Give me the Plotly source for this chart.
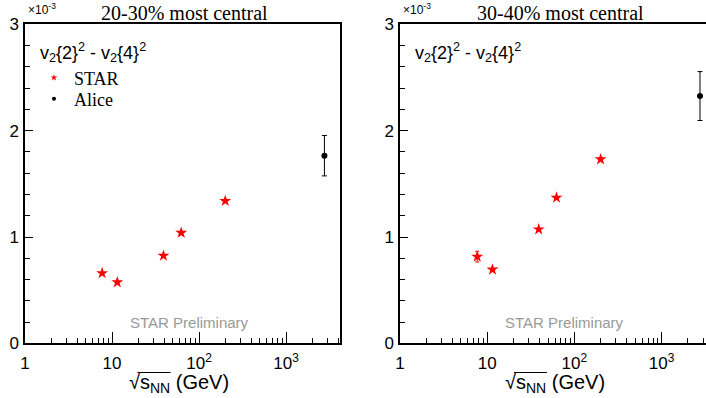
import plotly.graph_objects as go

# ---- data ----
star_energy = [7.7, 11.5, 39, 62.4, 200]
star_2030 = [0.66, 0.574, 0.824, 1.04, 1.339]
star_2030_err = [0.0, 0.0, 0.0, 0.0, 0.0]
star_3040 = [0.815, 0.694, 1.072, 1.37, 1.731]
star_3040_err = [0.05, 0.0, 0.0, 0.0, 0.0]
alice_energy = [2760]
alice_2030 = [1.765]
alice_2030_err = [0.19]
alice_3040 = [2.326]
alice_3040_err = [0.23]

titles = ["20-30% most central", "30-40% most central"]
xtick_vals = [1, 10, 100, 1000]
xtick_text = ["1", "10", "10<sup>2</sup>", "10<sup>3</sup>"]
ytick_vals = [0, 1, 2, 3]

W, H = 706, 398
SANS = "Liberation Sans, Arial, sans-serif"
SERIF = "Liberation Serif, Times New Roman, serif"

ytop, ybot = 24.4, 343.3
ydom = [(H - ybot) / H, (H - ytop) / H]
panels = [
    dict(x0=25, x1=340, xmax=3.62),
    dict(x0=400, x1=706, xmax=3.51),
]

fig = go.Figure()

datasets = [
    (star_2030, star_2030_err, alice_2030, alice_2030_err),
    (star_3040, star_3040_err, alice_3040, alice_3040_err),
]
for i, (sv, se, av, ae) in enumerate(datasets):
    xa = "x" if i == 0 else "x2"
    ya = "y" if i == 0 else "y2"
    fig.add_trace(go.Scatter(
        x=star_energy, y=sv, mode="markers", xaxis=xa, yaxis=ya,
        marker=dict(symbol="star", size=9, color="red", line=dict(width=0)),
        error_y=dict(type="data", array=se, color="red", thickness=1, width=2),
        showlegend=False))
    fig.add_trace(go.Scatter(
        x=alice_energy, y=av, mode="markers", xaxis=xa, yaxis=ya,
        marker=dict(symbol="circle", size=6, color="black"),
        error_y=dict(type="data", array=ae, color="black", thickness=1, width=2.5),
        showlegend=False))

# legend-only entries (each in its own legend box for exact placement)
fig.add_trace(go.Scatter(x=[None], y=[None], mode="markers", name="STAR", legend="legend",
                         marker=dict(symbol="star", size=5, color="red")))
fig.add_trace(go.Scatter(x=[None], y=[None], mode="markers", name="Alice", legend="legend2",
                         marker=dict(symbol="circle", size=4, color="black")))

minor_x = [m * 10 ** e for e in range(0, 4) for m in range(2, 10)]

def xaxis_cfg(p):
    return dict(
        type="log", domain=[p["x0"] / W, p["x1"] / W], range=[0, p["xmax"]],
        automargin=False,
        showgrid=False, zeroline=False, showline=True, linecolor="black", linewidth=1.5,
        mirror=True, ticks="inside", ticklen=12, tickwidth=1.2, tickcolor="black",
        tickvals=xtick_vals, ticktext=xtick_text,
        tickfont=dict(family=SANS, size=17, color="black"),
        minor=dict(tickvals=minor_x, ticks="inside", ticklen=6, tickwidth=1.2,
                   tickcolor="black", showgrid=False),
        ticklabelstandoff=4,
    )

def yaxis_cfg(anchor, mirror):
    return dict(
        domain=ydom, range=[0, 3], anchor=anchor, automargin=False,
        showgrid=False, zeroline=False, showline=True, linecolor="black", linewidth=1.5,
        mirror=mirror, ticks="inside", ticklen=8, tickwidth=1.2, tickcolor="black",
        tickvals=ytick_vals,
        tickfont=dict(family=SANS, size=17, color="black"),
        minor=dict(dtick=0.2, ticks="inside", ticklen=5, tickwidth=1.2,
                   tickcolor="black", showgrid=False),
        ticklabelstandoff=1,
    )

leg_common = dict(xanchor="left", yanchor="middle", bgcolor="rgba(0,0,0,0)",
                  font=dict(family=SERIF, size=18, color="black"))
fig.update_layout(
    width=W, height=H, margin=dict(l=0, r=0, t=0, b=0, autoexpand=False),
    paper_bgcolor="white", plot_bgcolor="white",
    xaxis=dict(anchor="y", **xaxis_cfg(panels[0])),
    yaxis=yaxis_cfg("x", True),
    xaxis2=dict(anchor="y2", **xaxis_cfg(panels[1])),
    yaxis2=yaxis_cfg("x2", False),
    showlegend=True,
    legend=dict(x=34 / W, y=(H - 78) / H, **leg_common),
    legend2=dict(x=34 / W, y=(H - 99) / H, **leg_common),
)

annots = []
shapes = []
for i, p in enumerate(panels):
    x0 = p["x0"]
    cx_title = [184, 560][i]
    cx_xt = [178.5, 555][i]
    annots.append(dict(text=titles[i], x=cx_title / W, y=(H - 13) / H, xref="paper", yref="paper",
                       xanchor="center", yanchor="middle", showarrow=False,
                       font=dict(family=SERIF, size=20, color="black")))
    annots.append(dict(text="×10<sup>-3</sup>", x=(x0 + 1) / W, y=(H - 9) / H, xref="paper", yref="paper",
                       xanchor="left", yanchor="middle", showarrow=False,
                       font=dict(family=SANS, size=12, color="black")))
    annots.append(dict(text="v<sub>2</sub>{2}<sup>2</sup> - v<sub>2</sub>{4}<sup>2</sup>",
                       x=(x0 + 13) / W, y=(H - 53) / H, xref="paper", yref="paper",
                       xanchor="left", yanchor="middle", showarrow=False,
                       font=dict(family=SANS, size=18, color="black")))
    annots.append(dict(text="STAR Preliminary", x=[189, 564][i] / W, y=(H - 322) / H,
                       xref="paper", yref="paper", xanchor="center", yanchor="middle",
                       showarrow=False, font=dict(family=SANS, size=15, color="#999999")))
    annots.append(dict(text="√s<sub>NN</sub> (GeV)",
                       x=cx_xt / W, y=(H - 383) / H,
                       xref="paper", yref="paper", xanchor="center", yanchor="middle",
                       showarrow=False, font=dict(family=SANS, size=20, color="black")))
    # radical bar over s_NN
    shapes.append(dict(type="line", xref="paper", yref="paper",
                       x0=(cx_xt - 41) / W, x1=(cx_xt - 8) / W,
                       y0=(H - 372.5) / H, y1=(H - 372.5) / H,
                       line=dict(color="black", width=1)))
fig.update_layout(annotations=annots, shapes=shapes)

fig.write_html("out.html", post_script="document.body.style.margin='0px';")
